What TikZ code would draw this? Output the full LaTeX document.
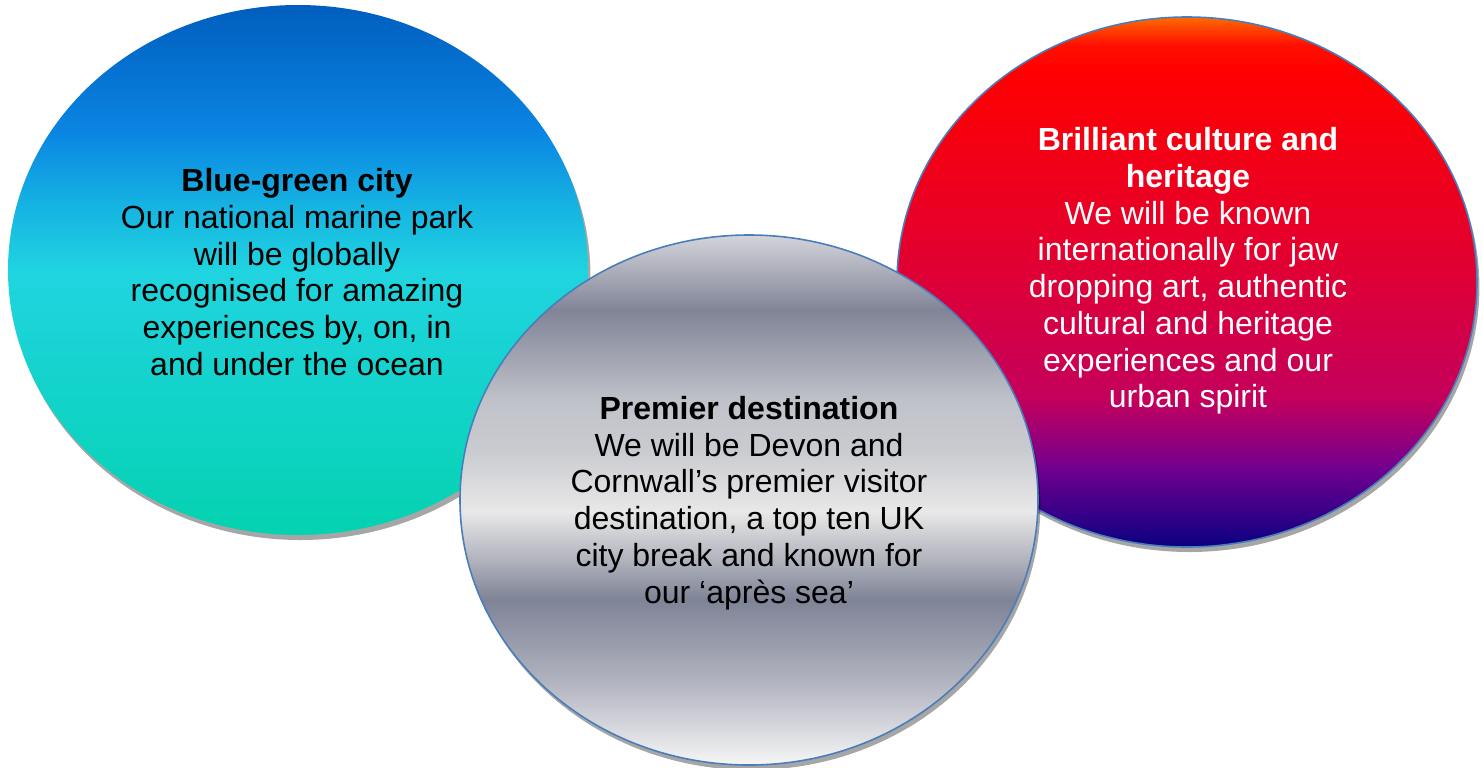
\documentclass[tikz,border=0pt]{standalone}
\usepackage{fontspec}
\setmainfont{Liberation Sans}
\usetikzlibrary{shapes.geometric,shadows}
\pgfdeclareverticalshading{bluegreen}{100bp}{%
  color(0bp)=(rgb,255:red,4;green,210;blue,176);
  color(25bp)=(rgb,255:red,4;green,210;blue,176);
  color(50bp)=(rgb,255:red,32;green,212;blue,224);
  color(56.6bp)=(rgb,255:red,20;green,176;blue,226);
  color(63.2bp)=(rgb,255:red,10;green,132;blue,226);
  color(75bp)=(rgb,255:red,0;green,94;blue,190);
  color(100bp)=(rgb,255:red,0;green,94;blue,190)}
\pgfdeclareverticalshading{redviolet}{100bp}{%
  color(0bp)=(rgb,255:red,10;green,0;blue,128);
  color(25bp)=(rgb,255:red,10;green,0;blue,128);
  color(32.3bp)=(rgb,255:red,112;green,0;blue,144);
  color(39bp)=(rgb,255:red,196;green,0;blue,92);
  color(53bp)=(rgb,255:red,228;green,0;blue,46);
  color(70bp)=(rgb,255:red,255;green,0;blue,0);
  color(72.4bp)=(rgb,255:red,255;green,16;blue,0);
  color(75bp)=(rgb,255:red,255;green,106;blue,0);
  color(100bp)=(rgb,255:red,255;green,106;blue,0)}
\pgfdeclareverticalshading{silver}{100bp}{%
  color(0bp)=(rgb,255:red,246;green,246;blue,246);
  color(25bp)=(rgb,255:red,246;green,246;blue,246);
  color(33bp)=(rgb,255:red,176;green,178;blue,190);
  color(40.6bp)=(rgb,255:red,126;green,131;blue,150);
  color(44.3bp)=(rgb,255:red,176;green,178;blue,188);
  color(48.9bp)=(rgb,255:red,232;green,232;blue,232);
  color(54.7bp)=(rgb,255:red,202;green,203;blue,208);
  color(59.4bp)=(rgb,255:red,192;green,194;blue,202);
  color(67.9bp)=(rgb,255:red,128;green,132;blue,150);
  color(75bp)=(rgb,255:red,212;green,212;blue,218);
  color(100bp)=(rgb,255:red,212;green,212;blue,218)}
\definecolor{rimblue}{RGB}{74,126,187}
\tikzset{
  bubble/.style={ellipse, inner sep=0pt, outer sep=0pt,
    minimum width=290pt, minimum height=265pt,
    drop shadow={shadow xshift=1.2pt, shadow yshift=-2.5pt, fill=black, opacity=0.35}},
  rimmed/.style={draw=rimblue, line width=0.8pt},
  btext/.style={align=center, font=\fontsize{16}{18.35}\selectfont, inner sep=0pt}
}
\begin{document}
\begin{tikzpicture}[x=0.5pt,y=-0.5pt]
\useasboundingbox (0,0) rectangle (1483,767);
\node[bubble, shading=bluegreen] (left) at (298,270) {};
\node[btext, text=black] (lefttext) at (297,272) {\textbf{Blue-green city}\\Our national marine park\\will be globally\\recognised for amazing\\experiences by, on, in\\and under the ocean};
\node[bubble, rimmed, shading=redviolet] (right) at (1187,282) {};
\node[btext, text=white] (righttext) at (1188,271) {\textbf{Brilliant culture and}\\\textbf{heritage}\\We will be known\\internationally for jaw\\dropping art, authentic\\cultural and heritage\\experiences and our\\urban spirit};
\node[bubble, rimmed, shading=silver, minimum width=289pt] (mid) at (749,500) {};
\node[btext, text=black] (midtext) at (749,503) {\textbf{Premier destination}\\We will be Devon and\\Cornwall’s premier visitor\\destination, a top ten UK\\city break and known for\\our ‘après sea’};
\end{tikzpicture}
\end{document}
